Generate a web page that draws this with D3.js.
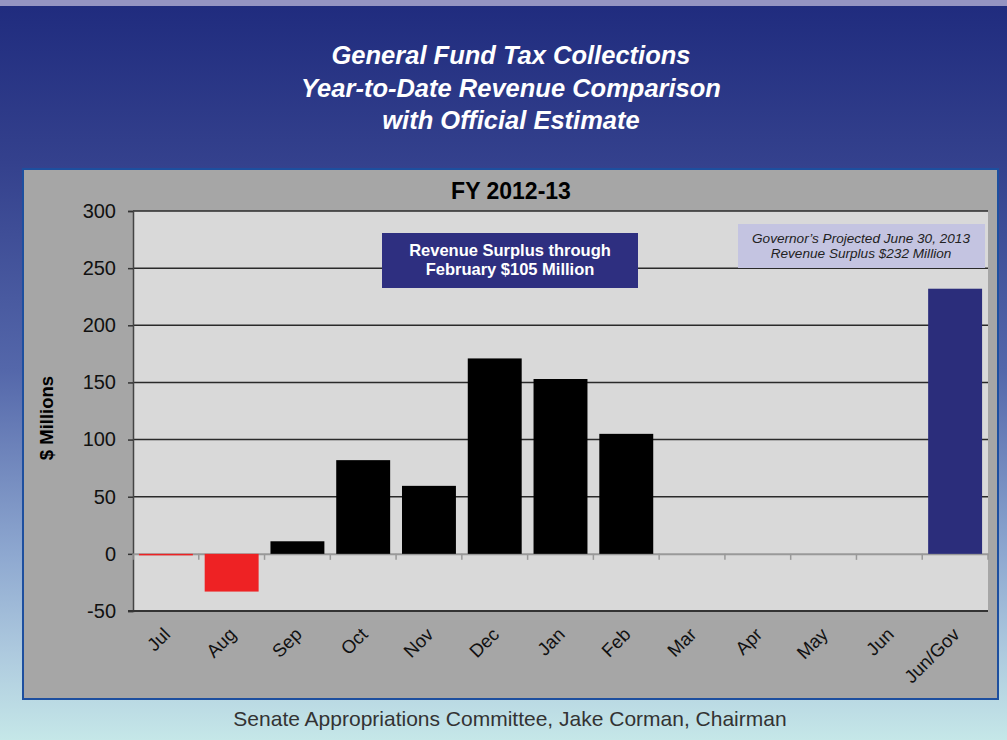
<!DOCTYPE html>
<html><head><meta charset="utf-8">
<script src="https://cdn.jsdelivr.net/npm/d3@7"></script>
<style>body{margin:0;padding:0;overflow:hidden}svg{display:block}</style>
</head><body>
<script>
const categories = ["Jul","Aug","Sep","Oct","Nov","Dec","Jan","Feb","Mar","Apr","May","Jun","Jun/Gov"];
const values = [-1,-33,11,82,59.5,171,153,105,null,null,null,null,232];
const yTicks = [-50,0,50,100,150,200,250,300];
const titleLines = ["General Fund Tax Collections","Year-to-Date Revenue Comparison","with Official Estimate"];
const note1 = ["Revenue Surplus through","February $105 Million"];
const note2 = ["Governor\u2019s Projected June 30, 2013","Revenue Surplus $232 Million"];

const W=1007,H=740;
const FONT="Liberation Sans, Arial, sans-serif";
const svg=d3.select("body").append("svg").attr("width",W).attr("height",H);
const defs=svg.append("defs");
const g=defs.append("linearGradient").attr("id","bg").attr("x1",0).attr("y1",0).attr("x2",0).attr("y2",1);
[[0,"#1f2b7e"],[0.22,"#34418d"],[0.5,"#5467aa"],[0.75,"#8ea8d0"],[0.88,"#adc9de"],[1,"#c5e7e8"]].forEach(s=>g.append("stop").attr("offset",s[0]).attr("stop-color",s[1]));
svg.append("rect").attr("width",W).attr("height",H).attr("fill","url(#bg)");
svg.append("rect").attr("width",W).attr("height",6).attr("fill","#9494c2");

const tt=svg.append("text").attr("text-anchor","middle").attr("fill","#fff")
 .style("font-family",FONT).style("font-weight","bold").style("font-style","italic").style("font-size","25.5px");
titleLines.forEach((t,i)=>tt.append("tspan").attr("x",511).attr("y",64+i*32.5).text(t));

// panel
svg.append("rect").attr("x",23).attr("y",169).attr("width",975).attr("height",530).attr("fill","#a6a6a6").attr("stroke","#1d4f9f").attr("stroke-width",2);

const x=d3.scaleBand().domain(categories).range([133,988]).paddingInner(0.18).paddingOuter(0.09);
const y=d3.scaleLinear().domain([-50,300]).range([611,211]);

svg.append("rect").attr("x",133).attr("y",211).attr("width",855).attr("height",400).attr("fill","#d9d9d9");

svg.append("text").attr("x",511).attr("y",199).attr("text-anchor","middle").style("font-family",FONT).style("font-weight","bold").style("font-size","23px").attr("fill","#000").text("FY 2012-13");

// gridlines
svg.append("g").selectAll("line").data(yTicks.filter(d=>d>0)).join("line")
 .attr("x1",133).attr("x2",988).attr("y1",d=>y(d)).attr("y2",d=>y(d)).attr("stroke","#2a2a2a").attr("stroke-width",1.5);

// y axis
const ya=svg.append("g").attr("transform","translate(133,0)").call(d3.axisLeft(y).tickValues(yTicks).tickSize(5).tickPadding(12).tickFormat(d=>String(d)));
ya.select(".domain").attr("stroke","#444").attr("stroke-width",1.5);
ya.selectAll(".tick line").attr("stroke","#333").attr("stroke-width",1.5);
ya.selectAll("text").style("font-family",FONT).style("font-size","20px").attr("fill","#111");

// bottom axis line at -50
svg.append("line").attr("x1",128).attr("x2",988).attr("y1",y(-50)).attr("y2",y(-50)).attr("stroke","#333").attr("stroke-width",2);

// zero axis
const xa=svg.append("g").attr("transform",`translate(0,${y(0)})`).call(d3.axisBottom(x).tickSize(0).tickFormat(""));
xa.select(".domain").attr("stroke","#999").attr("stroke-width",2);
const step=x.step();
svg.append("g").selectAll("line").data(d3.range(categories.length+1)).join("line")
 .attr("x1",i=>133+i*step).attr("x2",i=>133+i*step).attr("y1",y(0)).attr("y2",y(0)+6).attr("stroke","#999").attr("stroke-width",1.5);

// bars
const data=categories.map((c,i)=>({c,v:values[i]})).filter(d=>d.v!==null);
svg.append("g").selectAll("rect").data(data).join("rect")
 .attr("x",d=>x(d.c)).attr("width",x.bandwidth())
 .attr("y",d=>y(Math.max(0,d.v))).attr("height",d=>Math.max(1.5,Math.abs(y(d.v)-y(0))))
 .attr("fill",d=>d.c==="Jun/Gov"?"#2b2d7b":(d.v<0?"#ee2224":"#000"));

// x labels
svg.append("g").selectAll("text").data(categories).join("text")
 .attr("transform",d=>`translate(${x(d)+x.bandwidth()/2+1},${631}) rotate(-45)`)
 .attr("text-anchor","end").attr("dy","0.35em")
 .style("font-family",FONT).style("font-size","18.5px").attr("fill","#111").text(d=>d);

// y title
svg.append("text").attr("transform","translate(53,418) rotate(-90)").attr("text-anchor","middle")
 .style("font-family",FONT).style("font-weight","bold").style("font-size","18.5px").attr("fill","#000").text("$ Millions");

// note 1
svg.append("rect").attr("x",382).attr("y",233).attr("width",256).attr("height",55).attr("fill","#2e2f80");
const n1=svg.append("text").attr("text-anchor","middle").attr("fill","#fff").style("font-family",FONT).style("font-weight","bold").style("font-size","16.5px");
note1.forEach((t,i)=>n1.append("tspan").attr("x",510).attr("y",256+i*19).text(t));

// note 2
svg.append("rect").attr("x",738).attr("y",224).attr("width",247).attr("height",44).attr("fill","#c4c4e1");
const n2=svg.append("text").attr("text-anchor","middle").attr("fill","#222").style("font-family",FONT).style("font-style","italic").style("font-size","13.6px");
note2.forEach((t,i)=>n2.append("tspan").attr("x",861).attr("y",243+i*15).text(t));

// footer
svg.append("text").attr("x",510).attr("y",726).attr("text-anchor","middle").style("font-family",FONT).style("font-size","21px").attr("fill","#333").text("Senate Appropriations Committee, Jake Corman, Chairman");
</script>
</body></html>
